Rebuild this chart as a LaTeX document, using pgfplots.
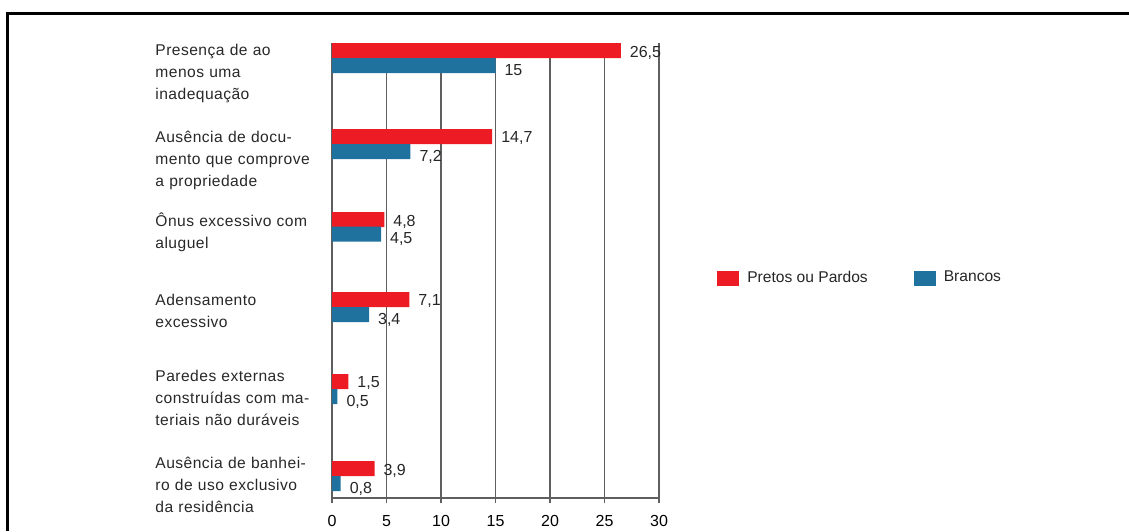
\documentclass[border=0pt]{standalone}
\usepackage{fontspec}
\setmainfont{Liberation Sans}
\newfontfamily\rotulo[LetterSpace=3]{Liberation Sans}
\usepackage{pgfplots}
\pgfplotsset{compat=1.18}

\definecolor{vermelho}{RGB}{237,28,36}
\definecolor{azul}{RGB}{31,113,158}
\definecolor{grade}{RGB}{95,95,95}
\definecolor{texto}{RGB}{40,40,40}

% y = posicao vertical (1 unidade = 1 px da figura original)
\pgfplotstableread{
x    y
26.5 50.5
14.7 136.5
4.8  219.5
7.1  299.5
1.5  381.5
3.9  468.5
}\pretos
\pgfplotstableread{
x    y
15   65.5
7.2  151.5
4.5  234
3.4  314.5
0.5  396.5
0.8  483.5
}\brancos

\begin{document}
\begin{tikzpicture}
\useasboundingbox (0,0) rectangle (564.5pt,-265.5pt);
\draw[line width=1.5pt] (3.5pt,-265.5pt) -- (3.5pt,-6.5pt) -- (564.5pt,-6.5pt);
\begin{axis}[
  at={(166pt,-249pt)}, anchor=south west,
  scale only axis, width=163.5pt, height=227.5pt,
  xmin=0, xmax=30, ymin=43, ymax=498, y dir=reverse,
  clip=false,
  axis x line=bottom, axis y line=left,
  axis line style={-, grade, line width=0.6pt},
  xtick={0,5,...,30}, tick align=outside, major tick length=2.5pt,
  xtick style={grade, line width=0.6pt},
  xmajorgrids, grid style={grade, line width=0.6pt},
  ytick={50,137,218,300,376,463},
  ytick style={draw=none},
  yticklabels={
    {Presença de ao\\menos uma\\inadequação},
    {Ausência de docu-\\mento que comprove\\a propriedade},
    {Ônus excessivo com\\aluguel},
    {Adensamento\\excessivo},
    {Paredes externas\\construídas com ma-\\teriais não duráveis},
    {Ausência de banhei-\\ro de uso exclusivo\\da residência}},
  yticklabel style={anchor=north west, text width=88pt, align=left,
    inner sep=0pt, xshift=-86pt, yshift=3pt,
    font=\rotulo\fontsize{7.8}{11}\selectfont, text=texto},
  xticklabel style={font=\fontsize{8}{9}\selectfont, text=black, yshift=-2.5pt},
  /pgf/number format/assume math mode=true,
  /pgf/number format/use comma,
  /pgf/number format/fixed,
  /pgf/number format/precision=1,
  xbar, bar width=15, bar shift=0pt,
  point meta=x,
  nodes near coords={\pgfmathprintnumber{\pgfplotspointmeta}},
  every node near coord/.append style={font=\fontsize{8}{9}\selectfont,
    text=black!85, xshift=1pt, yshift=-1pt},
  legend image code/.code={\fill[#1] (0pt,-3.75pt) rectangle (11pt,3.75pt);},
  legend columns=2,
  legend style={at={(1.177,0.4835)}, anchor=west, draw=none, fill=none,
    inner sep=0pt, font=\fontsize{7.8}{9}\selectfont,
    nodes={inner sep=0pt, text=black!85},
    column sep=0pt,
    /tikz/every odd column/.append style={column sep=4pt},
    /tikz/column 2/.append style={column sep=23pt}},
]
\addplot[fill=vermelho, draw=none] table[x=x, y=y] {\pretos};
\addplot[fill=azul, draw=none,
  every node near coord/.append style={yshift=-1.5pt}] table[x=x, y=y] {\brancos};
\legend{Pretos ou Pardos, Brancos}
\end{axis}
\end{tikzpicture}
\end{document}
